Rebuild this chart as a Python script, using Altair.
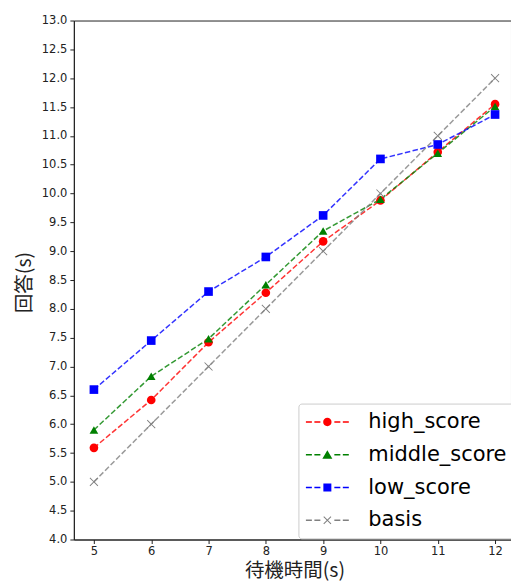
import altair as alt
import pandas as pd

waits = [5, 6, 7, 8, 9, 10, 11, 12]
high_score = [5.59, 6.42, 7.42, 8.28, 9.17, 9.88, 10.72, 11.55]
middle_score = [5.90, 6.83, 7.48, 8.42, 9.35, 9.90, 10.70, 11.51]
low_score = [6.60, 7.45, 8.30, 8.90, 9.62, 10.60, 10.85, 11.37]
basis = [5, 6, 7, 8, 9, 10, 11, 12]

series_names = ["high_score", "middle_score", "low_score", "basis"]
series_values = [high_score, middle_score, low_score, basis]
series_colors = ["#ff0000", "#008000", "#0000ff", "#808080"]

y_ticks = [4.0 + 0.5 * i for i in range(19)]

rows = []
for name, vals in zip(series_names, series_values):
    for w, v in zip(waits, vals):
        rows.append({"wait": w, "answer": v, "series": name})
df = pd.DataFrame(rows)

X_PATH = ("M-1,-0.85L-0.85,-1L0,-0.15L0.85,-1L1,-0.85L0.15,0L1,0.85L0.85,1L0,0.15"
          "L-0.85,1L-1,0.85L-0.15,0Z")


def rect(a, b, t=0.075):
    return f"M{a},{-t}L{b},{-t}L{b},{t}L{a},{t}Z"


dashes = rect(-2.15, -1.55) + rect(-1.3, -0.7) + rect(0.7, 1.3) + rect(1.55, 2.15)
leg_circle = "M-0.42,0A0.42,0.42 0 1,0 0.42,0A0.42,0.42 0 1,0 -0.42,0Z"
leg_tri = "M0,-0.45L0.5,0.4L-0.5,0.4Z"
leg_square = "M-0.4,-0.4L0.4,-0.4L0.4,0.4L-0.4,0.4Z"
leg_x = ("M-0.4,-0.33L-0.33,-0.4L0,-0.07L0.33,-0.4L0.4,-0.33L0.07,0L0.4,0.33"
         "L0.33,0.4L0,0.07L-0.33,0.4L-0.4,0.33L-0.07,0Z")
legend_shapes = [dashes + leg_circle, dashes + leg_tri, dashes + leg_square, dashes + leg_x]

x_scale = alt.Scale(domain=[4.65, 12.278], nice=False, zero=False)
y_scale = alt.Scale(domain=[4.0, 13.0], nice=False, zero=False)

x_enc = alt.X(
    "wait:Q", scale=x_scale,
    axis=alt.Axis(values=waits, format="d", title="待機時間(s)",
                  titleX=221, titleY=31, titleAlign="center", titleBaseline="middle"),
)
y_enc = alt.Y(
    "answer:Q", scale=y_scale,
    axis=alt.Axis(values=y_ticks, format=".1f", title="回答(s)",
                  titleX=-49, titleY=262, titleAngle=270,
                  titleAlign="center", titleBaseline="middle"),
)

color_plain = alt.Color("series:N", scale=alt.Scale(domain=series_names, range=series_colors), legend=None)

lines = alt.Chart(df).mark_line(strokeDash=[5.5, 2.4], strokeWidth=1.5, opacity=0.8).encode(
    x=x_enc, y=y_enc, color=color_plain, detail="series:N"
)

points = alt.Chart(df).mark_point(filled=True, size=75, opacity=1).encode(
    x=x_enc, y=y_enc, color=color_plain,
    shape=alt.Shape("series:N",
                    scale=alt.Scale(domain=series_names,
                                    range=["circle", "triangle-up", "square", X_PATH]),
                    legend=None),
)

leg = alt.Legend(
    title=None, orient="none", legendX=225, legendY=383.8,
    fillColor="white", strokeColor="#cccccc", cornerRadius=3, padding=8,
    symbolOffset=10.5, labelOffset=30.5, rowPadding=10.8,
    labelFontSize=21, labelFont="DejaVu Sans", labelColor="black",
    symbolSize=400, symbolStrokeWidth=0, symbolOpacity=1, labelLimit=400,
)

legend_layer = alt.Chart(df).transform_filter("false").mark_point(filled=True, size=400).encode(
    x=x_enc, y=y_enc,
    color=alt.Color("series:N", scale=alt.Scale(domain=series_names, range=series_colors), legend=leg),
    shape=alt.Shape("series:N", scale=alt.Scale(domain=series_names, range=legend_shapes), legend=leg),
)

chart = alt.layer(lines, points, legend_layer).resolve_scale(
    color="independent", shape="independent"
).properties(
    width=438, height=520,
    autosize=alt.AutoSizeParams(type="none"),
    padding={"left": 74, "top": 20, "right": 0, "bottom": 42},
).configure_view(
    stroke="#222222", strokeWidth=1
).configure_axis(
    grid=False, domainColor="#222222", tickColor="#222222", tickSize=4,
    labelFont="DejaVu Sans", labelFontSize=11.5, labelColor="#222222",
    titleFont="Noto Sans CJK JP", titleFontSize=19.5, titleFontWeight="normal",
    titleColor="#222222",
).configure_axisX(labelPadding=2).configure_axisY(labelPadding=3)

chart.save("out.html", embed_options={"renderer": "svg", "actions": False})
